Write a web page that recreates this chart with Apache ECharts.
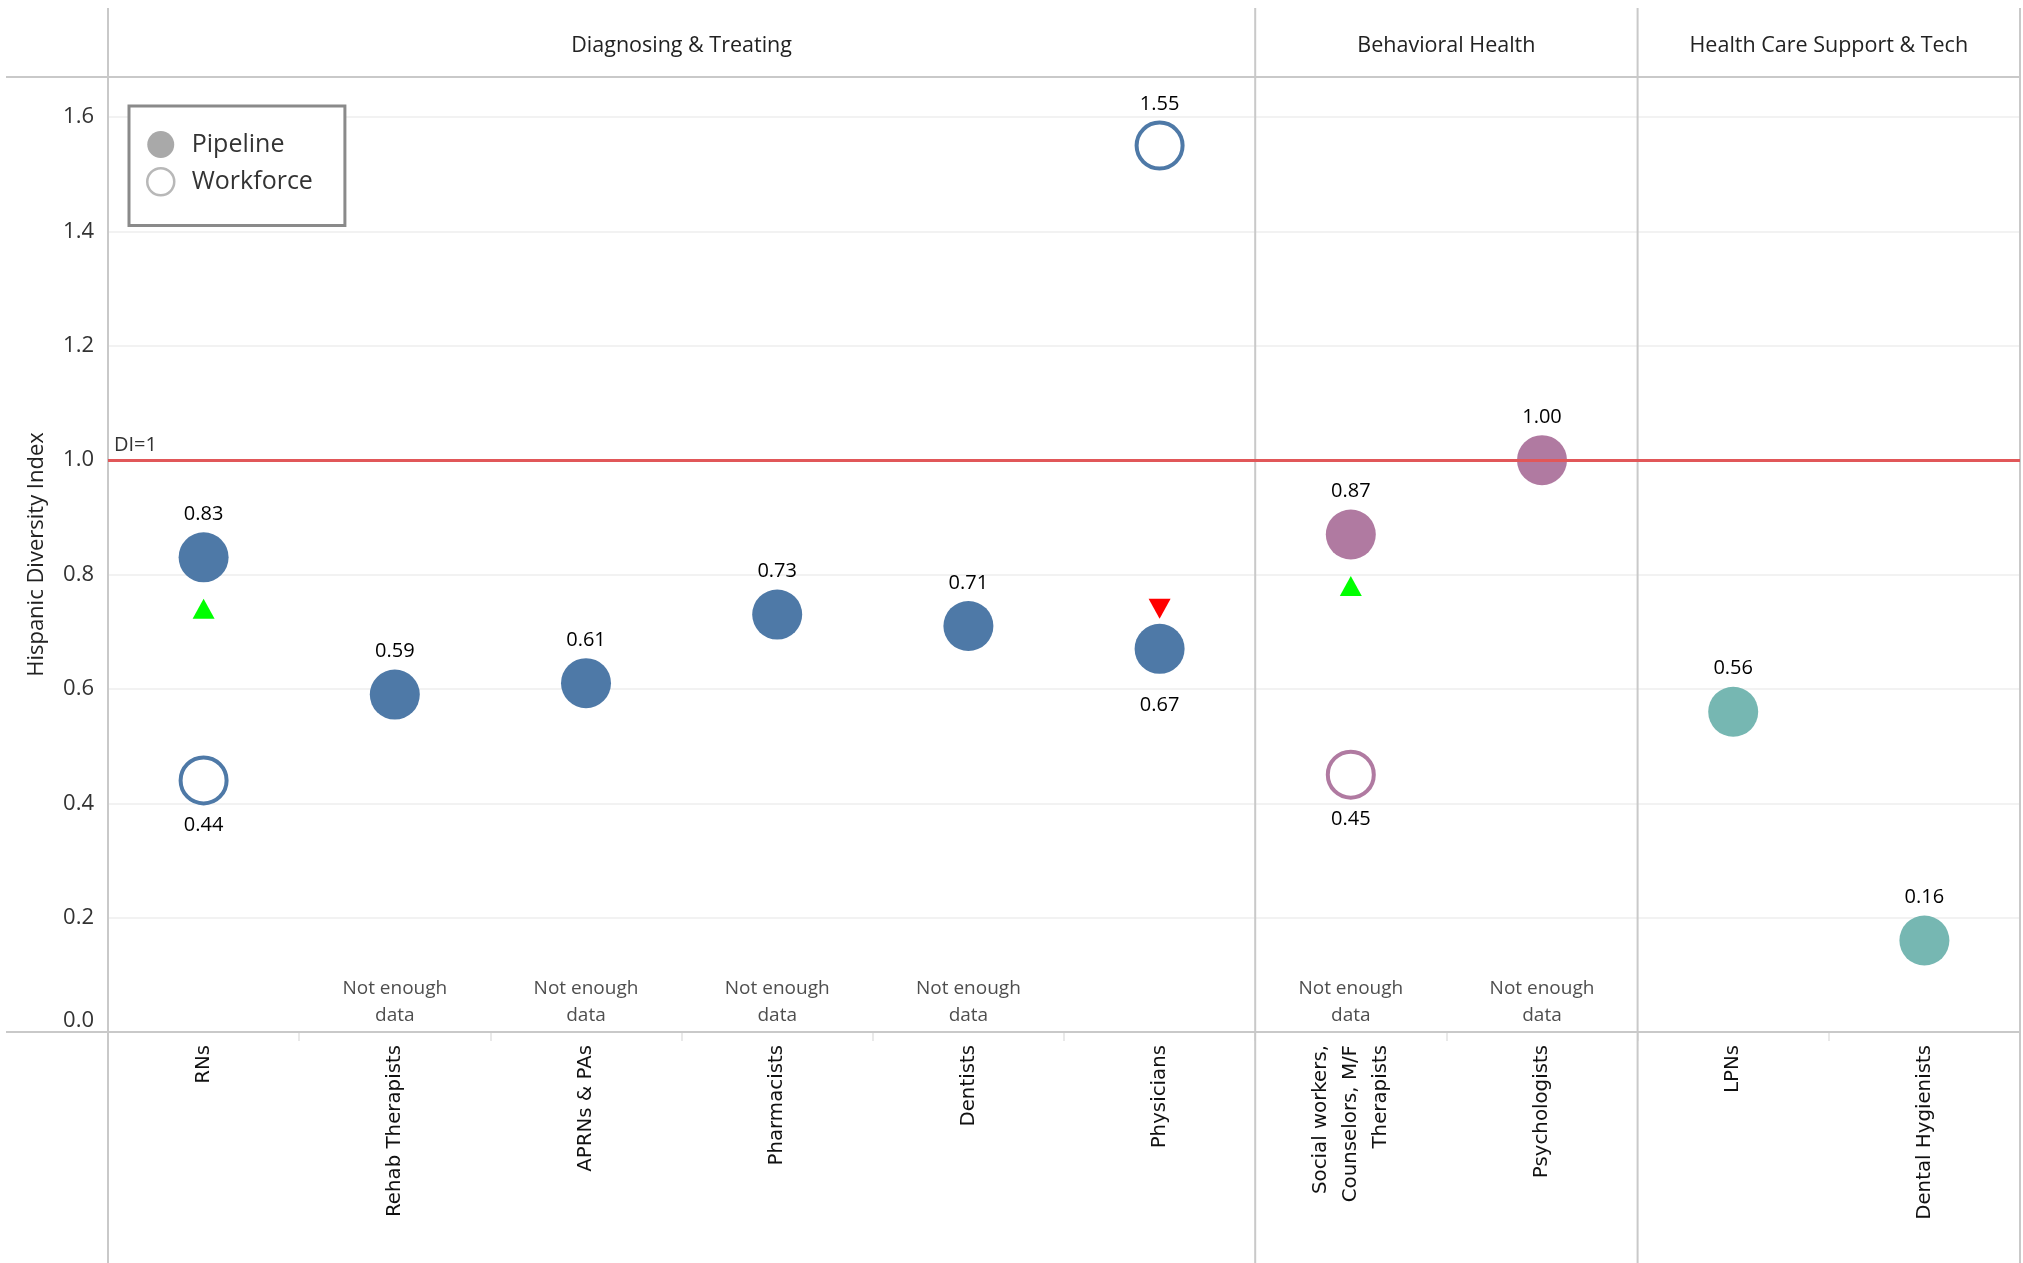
<!DOCTYPE html>
<html><head><meta charset="utf-8">
<script src="https://cdn.jsdelivr.net/npm/echarts@6/dist/echarts.min.js"></script>
<style>html,body{margin:0;padding:0;background:#fff}#c{width:2023px;height:1263px}</style>
</head><body><div id="c"></div>
<script>
// ---------- data ----------
const categories = ['RNs', 'Rehab Therapists', 'APRNs & PAs', 'Pharmacists', 'Dentists', 'Physicians',
  'Social workers,\nCounselors, M/F\nTherapists', 'Psychologists', 'LPNs', 'Dental Hygienists'];
const groupNames = ['Diagnosing & Treating', 'Behavioral Health', 'Health Care Support & Tech'];
const groupSizes = [6, 2, 2];
const pipeline  = [0.83, 0.59, 0.61, 0.73, 0.71, 0.67, 0.87, 1.00, 0.56, 0.16];
const workforce = [0.44, null, null, null, null, 1.55, 0.45, null, null, null];
const trendUp   = [0.74, null, null, null, null, null, 0.78, null, null, null];
const trendDown = [null, null, null, null, null, 0.74, null, null, null, null];
const notEnoughData = [false, true, true, true, true, false, true, true, false, false];
const yMin = 0, yMax = 1.67, yInterval = 0.2;
const refValue = 1.0, refLabel = 'DI=1';
const yAxisTitle = 'Hispanic Diversity Index';

// ---------- styles ----------
const groupColors = ['#4E79A7', '#B07AA1', '#76B7B2'];
const groupOf = [];
groupSizes.forEach((n, g) => { for (let k = 0; k < n; k++) groupOf.push(g); });
const colorOf = i => groupColors[groupOf[i]];
const FONT = "'Open Sans', 'Noto Sans', sans-serif";
const labelStyle = { show: true, fontFamily: FONT, fontSize: 20, color: '#000', distance: 8,
  formatter: p => p.value[1].toFixed(2) };

const chart = echarts.init(document.getElementById('c'), null, { renderer: 'canvas' });

const option = {
  animation: false,
  backgroundColor: '#fff',
  grid: { left: 108, right: 3, top: 77, bottom: 231, containLabel: false },
  legend: {
    orient: 'vertical', left: 129, top: 106,
    data: [
      { name: 'Pipeline', icon: 'circle', itemStyle: { color: '#a9a9a9', borderWidth: 0, opacity: 1 } },
      { name: 'Workforce', icon: 'circle', itemStyle: { color: '#ffffff', borderColor: '#b8b8b8', borderWidth: 2.5, opacity: 1 } }
    ],
    itemWidth: 52, itemHeight: 27, itemGap: 9, symbolKeepAspect: true,
    textStyle: { fontSize: 25, color: '#333', fontFamily: FONT },
    padding: [25, 32, 29, 17],
    borderColor: '#8a8a8a', borderWidth: 3, backgroundColor: '#fff',
    selectedMode: false
  },
  xAxis: {
    type: 'category', data: categories, boundaryGap: true,
    axisLine: { show: false },
    axisTick: { show: true, interval: 0, length: 9, lineStyle: { color: '#e2e2e2', width: 1.5 } },
    axisLabel: { rotate: 90, interval: 0, margin: 13, fontFamily: "'DejaVu Sans', sans-serif",
      fontSize: 19.8, color: '#111', lineHeight: 30 },
    splitLine: { show: false }
  },
  yAxis: {
    type: 'value', min: yMin, max: yMax, interval: yInterval,
    name: yAxisTitle, nameLocation: 'middle', nameGap: 60,
    nameTextStyle: { fontFamily: FONT, fontSize: 22, color: '#222' },
    axisLine: { show: false }, axisTick: { show: false },
    axisLabel: { fontFamily: FONT, fontSize: 22, color: '#333', margin: 14, showMaxLabel: false,
      verticalAlignMinLabel: 'bottom', formatter: v => v.toFixed(1) },
    splitLine: { show: true, lineStyle: { color: '#eeeeee', width: 1.5 } }
  },
  series: [
    {
      name: 'Pipeline', type: 'scatter', symbol: 'circle', symbolSize: 50, z: 3,
      itemStyle: { opacity: 1 },
      data: pipeline.map((v, i) => ({
        value: [i, v], itemStyle: { color: colorOf(i), opacity: 1 },
        label: Object.assign({}, labelStyle, trendDown[i] != null
          ? { position: 'bottom', distance: 21 } : { position: 'top' })
      })),
      emphasis: { disabled: true }
    },
    {
      name: 'Workforce', type: 'scatter', symbol: 'circle', symbolSize: 46, z: 3,
      itemStyle: { opacity: 1 },
      data: workforce.map((v, i) => v == null ? null : ({
        value: [i, v], itemStyle: { color: '#fff', borderColor: colorOf(i), borderWidth: 4, opacity: 1 },
        label: Object.assign({}, labelStyle, v < pipeline[i]
          ? { position: 'bottom', distance: 10 } : { position: 'top', distance: 6 })
      })).filter(d => d),
      emphasis: { disabled: true }
    },
    {
      name: 'Up', type: 'scatter', symbol: 'triangle', symbolSize: [22, 20], z: 4,
      itemStyle: { color: '#00FF00', opacity: 1 },
      data: trendUp.map((v, i) => v == null ? null : [i, v]).filter(d => d),
      emphasis: { disabled: true }
    },
    {
      name: 'Down', type: 'scatter', symbol: 'triangle', symbolRotate: 180, symbolSize: [22, 20], z: 4,
      itemStyle: { color: '#FF0000', opacity: 1 },
      data: trendDown.map((v, i) => v == null ? null : [i, v]).filter(d => d),
      emphasis: { disabled: true }
    },
    {
      name: 'NoData', type: 'scatter', symbolSize: 0, z: 2,
      data: notEnoughData.map((f, i) => f ? [i, yMin] : null).filter(d => d),
      label: { show: true, position: 'top', distance: 3, formatter: 'Not enough\ndata',
        fontFamily: FONT, fontSize: 19, lineHeight: 27, color: '#222' },
      emphasis: { disabled: true }, silent: true
    },
    {
      name: 'Ref', type: 'scatter', data: [], z: 6, silent: true,
      markLine: {
        silent: true, symbol: 'none', animation: false,
        lineStyle: { color: '#E15759', width: 3, type: 'solid' },
        label: { show: true, position: 'insideStartTop', formatter: refLabel, distance: [6, 5],
          fontFamily: FONT, fontSize: 20, color: '#333' },
        emphasis: { disabled: true },
        data: [{ yAxis: refValue }]
      }
    }
  ]
};
chart.setOption(option);

// ---------- frame, separators and group headers from axis scale ----------
const c0 = chart.convertToPixel({ gridIndex: 0 }, [0, yMin]);
const c1 = chart.convertToPixel({ gridIndex: 0 }, [1, yMin]);
const bw = c1[0] - c0[0];
const xLeft = c0[0] - bw / 2;
const yZero = c0[1];
const yTop = chart.convertToPixel({ gridIndex: 0 }, [0, yMax])[1];
const W = chart.getWidth(), H = chart.getHeight();
const lineColor = '#c9c9c9';
const gfx = [];
gfx.push({ type: 'line', shape: { x1: 6, y1: yTop, x2: xLeft + categories.length * bw + 1, y2: yTop },
  style: { stroke: lineColor, lineWidth: 2 }, z: 1, silent: true });
gfx.push({ type: 'line', shape: { x1: 6, y1: yZero, x2: xLeft + categories.length * bw + 1, y2: yZero },
  style: { stroke: lineColor, lineWidth: 2 }, z: 1, silent: true });
let start = 0;
const bounds = [0];
groupSizes.forEach(n => { start += n; bounds.push(start); });
bounds.forEach(b => {
  const x = xLeft + b * bw;
  gfx.push({ type: 'line', shape: { x1: x, y1: 8, x2: x, y2: H }, style: { stroke: lineColor, lineWidth: 2 }, z: 1, silent: true });
});
groupNames.forEach((g, k) => {
  const x = xLeft + (bounds[k] + bounds[k + 1]) / 2 * bw;
  gfx.push({ type: 'text', x: x, y: (8 + yTop) / 2 + 3, silent: true, z: 2,
    style: { text: g, fontFamily: FONT, fontSize: 21.5, fill: '#222', align: 'center', verticalAlign: 'middle' } });
});
chart.setOption({ graphic: gfx });
</script>
</body></html>
